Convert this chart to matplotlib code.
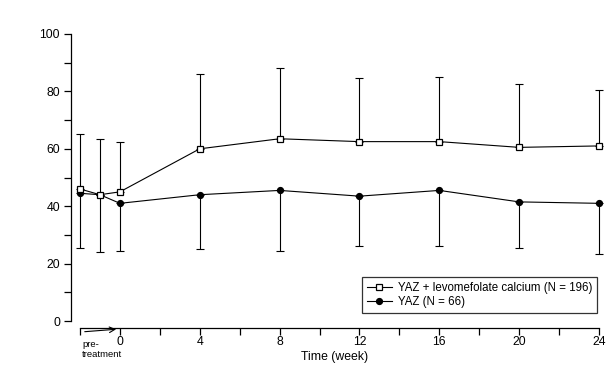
import matplotlib
matplotlib.use("Agg")
import matplotlib.pyplot as plt

plt.rcParams['font.family'] = ['Liberation Sans', 'DejaVu Sans']

# weeks (-2 and -1 are the pre-treatment visits)
weeks = [-2, -1, 0, 4, 8, 12, 16, 20, 24]

# YAZ + levomefolate calcium
combo_mean = [46, 44, 45, 60, 63.5, 62.5, 62.5, 60.5, 61]
combo_upper = [65, 63.5, 62.5, 86, 88, 84.5, 85, 82.5, 80.5]

# YAZ
yaz_mean = [44.5, 44, 41, 44, 45.5, 43.5, 45.5, 41.5, 41]
yaz_lower = [25.5, 24, 24.5, 25, 24.5, 26, 26, 25.5, 23.5]

x_ticks = [-2, 0, 2, 4, 6, 8, 10, 12, 14, 16, 18, 20, 22, 24]
x_labels = ['', '0', '', '4', '', '8', '', '12', '', '16', '', '20', '', '24']

fig = plt.figure(figsize=(6.13, 3.74), dpi=100)
ax = fig.add_axes([71/613, 1-321/374, (599-71)/613, (321-34)/374])

# one-sided error bars
up_err = [u - m for u, m in zip(combo_upper, combo_mean)]
lo_err = [m - l for l, m in zip(yaz_lower, yaz_mean)]
ax.errorbar(weeks, combo_mean, yerr=[[0]*len(weeks), up_err], fmt='none',
            ecolor='black', elinewidth=0.8, capsize=3, capthick=0.8, clip_on=False)
ax.errorbar(weeks, yaz_mean, yerr=[lo_err, [0]*len(weeks)], fmt='none',
            ecolor='black', elinewidth=0.8, capsize=3, capthick=0.8, clip_on=False)

ax.plot(weeks, yaz_mean, color='black', lw=0.8, marker='o', ms=4.2,
        mfc='black', mec='black', label='YAZ (N = 66)', clip_on=False, zorder=3)
ax.plot(weeks, combo_mean, color='black', lw=0.8, marker='s', ms=4.6,
        mfc='white', mec='black', mew=0.9,
        label='YAZ + levomefolate calcium (N = 196)', clip_on=False, zorder=4)

ax.set_xlim(-2.45, 24)
ax.set_ylim(0, 100)

for s in ['top', 'right']:
    ax.spines[s].set_visible(False)
ax.spines['bottom'].set_position(('outward', 5))
ax.spines['bottom'].set_bounds(-2, 24)
ax.spines['left'].set_bounds(0, 100)
ax.spines['left'].set_linewidth(0.9)
ax.spines['bottom'].set_linewidth(0.9)

ax.set_yticks([0, 20, 40, 60, 80, 100])
ax.set_yticks([10, 30, 50, 70, 90], minor=True)
ax.set_xticks(x_ticks)
ax.set_xticklabels(x_labels)
ax.tick_params(axis='both', which='both', direction='out', length=5, width=0.9,
               labelsize=8.8)
ax.tick_params(axis='x', pad=1)
ax.tick_params(axis='y', pad=3)

ax.set_xlabel('Time (week)', fontsize=8.8, labelpad=2)

# pre-treatment marker below the axis
ax.annotate('', xy=(-0.05, -0.028), xytext=(-1.9, -0.038),
            xycoords=('data', 'axes fraction'), textcoords=('data', 'axes fraction'),
            arrowprops=dict(arrowstyle='->', lw=0.8, color='black'))
ax.text(-1.9, -0.066, 'pre-', transform=ax.get_xaxis_transform(),
        fontsize=6.8, va='top', ha='left')
ax.text(-1.9, -0.1, 'treatment', transform=ax.get_xaxis_transform(),
        fontsize=6.8, va='top', ha='left')

handles, labels = ax.get_legend_handles_labels()
leg = ax.legend(handles[::-1], labels[::-1], loc='lower right',
                bbox_to_anchor=(0.996, 0.028), borderaxespad=0, fontsize=8.3,
                frameon=True, fancybox=False, edgecolor='black', handlelength=2.2,
                borderpad=0.4, labelspacing=0.2, handletextpad=0.5)
leg.get_frame().set_linewidth(0.9)

fig.savefig('out.png', dpi=100)
